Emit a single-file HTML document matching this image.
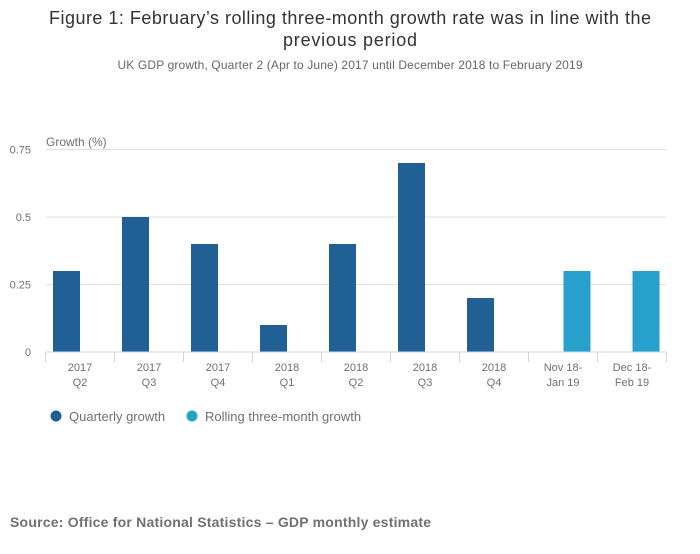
<!DOCTYPE html>
<html><head><meta charset="utf-8"><style>
body{margin:0;background:#fff;font-family:"Liberation Sans",sans-serif;}
svg text{font-family:"Liberation Sans",sans-serif;}
</style></head><body>
<svg width="700" height="549" xmlns="http://www.w3.org/2000/svg">
<text x="350" y="24" text-anchor="middle" font-size="18" fill="#333" textLength="602" lengthAdjust="spacing">Figure 1: February’s rolling three-month growth rate was in line with the</text>
<text x="350" y="46" text-anchor="middle" font-size="18" fill="#333" textLength="134" lengthAdjust="spacing">previous period</text>
<text x="350" y="69" text-anchor="middle" font-size="12" fill="#666" textLength="465" lengthAdjust="spacing">UK GDP growth, Quarter 2 (Apr to June) 2017 until December 2018 to February 2019</text>
<text x="46" y="146" font-size="12" fill="#707070">Growth (%)</text>
<g id="grid"></g><g id="bars"></g><g id="xaxis"></g>
<g>
<circle cx="56" cy="416" r="5.5" fill="#206095"/>
<text x="69" y="421" font-size="13" fill="#707070">Quarterly growth</text>
<circle cx="192" cy="416" r="5.5" fill="#27a0cc"/>
<text x="205" y="421" font-size="13" fill="#707070">Rolling three-month growth</text>
</g>
<text x="10" y="527" font-size="14" font-weight="bold" fill="#707070" textLength="421" lengthAdjust="spacing">Source: Office for National Statistics – GDP monthly estimate</text>
</svg>
<script>
const categories1=["2017","2017","2017","2018","2018","2018","2018","Nov 18-","Dec 18-"];
const categories2=["Q2","Q3","Q4","Q1","Q2","Q3","Q4","Jan 19","Feb 19"];
const quarterly=[0.3,0.5,0.4,0.1,0.4,0.7,0.2,null,null];
const rolling=[null,null,null,null,null,null,null,0.3,0.3];
const yTicks=[0,0.25,0.5,0.75];
const yTickLabels=["0","0.25","0.5","0.75"];
const NS="http://www.w3.org/2000/svg";
const L=45.5,R=666.5,Y0=352,Y1=149.5,catW=(R-L)/categories1.length;
const y=v=>Y0-(v/0.75)*(Y0-Y1);
const x=i=>L+i*catW;
function mk(t,a,p){const e=document.createElementNS(NS,t);for(const k in a)e.setAttribute(k,a[k]);p.appendChild(e);return e;}
const grid=document.getElementById('grid'),bars=document.getElementById('bars'),xa=document.getElementById('xaxis');
yTicks.forEach((v,i)=>{
 if(v>0){const g=mk('line',{x1:L,x2:R,y1:y(v),y2:y(v),stroke:'#e0e0e0'},grid);
 
 }
 const t=mk('text',{x:31,y:y(v)+4,'text-anchor':'end','font-size':11,fill:'#707070'},grid);t.textContent=yTickLabels[i];
 
 
});
const ax=mk('line',{x1:L,x2:R,y1:Y0,y2:Y0,stroke:'#ccd6eb'},xa);


for(let i=0;i<=categories1.length;i++){const tk=mk('line',{x1:x(i),x2:x(i),y1:Y0,y2:Y0+10,stroke:'#ccd6eb'},xa);
 
 }
categories1.forEach((c,i)=>{
 const cx=x(i)+catW/2;
 const t1=mk('text',{x:cx,y:Y0+19,'text-anchor':'middle','font-size':11,fill:'#707070'},xa);t1.textContent=c;
 
 
 const t2=mk('text',{x:cx,y:Y0+34,'text-anchor':'middle','font-size':11,fill:'#707070'},xa);t2.textContent=categories2[i];
 
 
 if(quarterly[i]!=null){const b=mk('rect',{x:x(i)+7.5,y:y(quarterly[i]),width:27,height:Y0-y(quarterly[i]),fill:'#206095'},bars);
  
  }
 if(rolling[i]!=null){const b=mk('rect',{x:x(i)+35,y:y(rolling[i]),width:27,height:Y0-y(rolling[i]),fill:'#27a0cc'},bars);
  
  }
});
</script>
</body></html>
